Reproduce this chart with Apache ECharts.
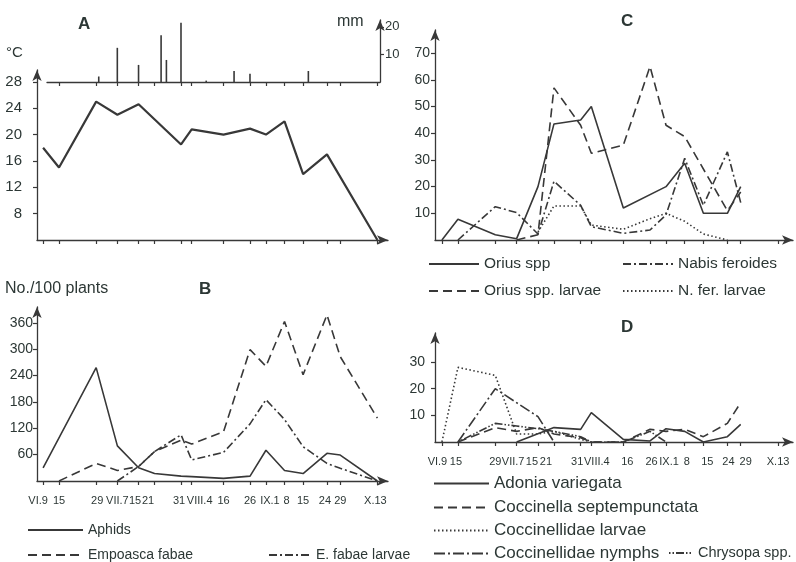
<!DOCTYPE html>
<html><head><meta charset="utf-8">
<script src="https://cdn.jsdelivr.net/npm/echarts@6/dist/echarts.min.js"></script>
<style>html,body{margin:0;padding:0;background:#fff}#c{width:796px;height:562px}</style>
</head><body><div id="c"></div><script>
// ---------------- DATA ----------------
// sampling dates, as days after 9 June
const tickDays = [0, 6, 20, 28, 36, 42, 52, 56, 68, 78, 84, 91, 98, 107, 112, 126];
const tickLabels = ['VI.9','15','29','VII.7','15','21','31','VIII.4','16','26','IX.1','8','15','24','29','X.13'];

// A: temperature (°C) and rainfall (mm)
const temperatureC = [18, 15, 25, 23, 24.6, null, 18.5, 20.8, 20, 20.9, 20, 22, 14, 17, null, 4];
const rainDays = [21, 28, 36, 44.5, 46.5, 52, 61.5, 72, 78, 100];
const rainMm   = [2, 12.4, 6.2, 17, 8, 21.5, 0.5, 4, 3, 4];
const tempTicks = [8, 12, 16, 20, 24, 28];
const rainTicks = [10, 20];

// B: No./100 plants
const aphids      = [30, null, 258, 80, 30, 17, 11, 10, 6, 11, 70, 24, 17, 63, 59, 0];
const empoasca    = [null, 0, 40, 24, 33, 67, 93, 84, 112, 299, 261, 363, 242, 378, 283, 143];
const fabaeLarvae = [null, null, null, 0, 33, 67, 105, 48, 65, 130, 185, 140, 78, 40, 29, 0];
const bTicks = [60, 120, 180, 240, 300, 360];

// C
const orius       = [0, 7.75, 2, 0.5, 20, 43.5, 45, 50, 12, null, 20, 28.75, 10, 10, 20, null];
const oriusLarvae = [null, null, null, 0, 2, 57, 43, 32.5, 35.6, 65, 43, 38.75, null, 11, 18, null];
const nabis       = [null, 0, 12.5, 10.25, 2.25, 22, 13, 5, 2.5, 3.75, 9.4, 30.6, 13, 33, 14, null];
const nferLarvae  = [null, null, null, null, 3, 12.75, 12.75, 5.6, 4, 8, 10, 7, 2.25, 0, null, null];
const cTicks = [10, 20, 30, 40, 50, 60, 70];

// D
const adonia      = [null, null, null, 0, null, 5.4, 4.75, 11, 1, 0.4, 5, 4, 0, 2, 6.6, null];
const coccinella  = [null, 0, 5.4, 4, 5.4, 3, 1.6, 0, 0, 4.75, 4, 4.75, 2, 7, 14.75, null];
const coccLarvae  = [0, 28, 25, 3, 3, 4, 1, 0, null, null, null, null, null, null, null, null];
const coccNymphs  = [null, 0, 20, null, 9.5, 0, null, null, null, null, null, null, null, null, null, null];
const chrysopa    = [null, 0, 7, 6, 5, 4, 2, 0, 0, 4, 0, null, null, null, null, null];
const dTicks = [10, 20, 30];

// ---------------- STYLE ----------------
const FONT = '"Liberation Sans", Arial, sans-serif';
const INK = '#383838';
const TXT = '#2c3735';
// small horizontal label offsets (px) used in the original lettering to avoid crowding
const nudgeB = [-5,0,1,0,-3.5,-6.5,-2,8,0,0,4,2,0,-2,0,-2];
const nudgeD = [-4.5,-2,0,-3.5,-6,-8,-3.5,5.5,4,1.5,3,2,4,1,5,0];
const XFS = 11;

function pts(days, arr){ const out=[]; arr.forEach((v,i)=>{ if(v!=null) out.push([days[i], v]); }); return out; }

function xLabel(margin, nudge, key){
  const rich = {};
  nudge.forEach((s,i)=>{
    rich[key+i] = {fontSize:XFS, color:TXT, fontFamily:FONT,
      padding: s>0 ? [0,0,0,2*s] : [0,-2*s,0,0]};
  });
  return {show:true, customValues:tickDays, margin:margin, fontSize:XFS, color:TXT, fontFamily:FONT,
    formatter:function(v){ const i = tickDays.indexOf(v); return i<0 ? '' : '{'+key+i+'|'+tickLabels[i]+'}'; },
    rich:rich};
}
function xAx(gi, min, max, extra){
  return Object.assign({type:'value', gridIndex:gi, min:min, max:max, splitLine:{show:false},
    axisLine:{show:true, onZero:false, lineStyle:{color:INK, width:1.3}, symbol:['none','arrow'], symbolSize:[7,11]},
    axisTick:{show:true, customValues:tickDays, length:4, lineStyle:{color:INK, width:1.2}},
    axisLabel:{show:false}}, extra||{});
}
function yAx(gi, min, max, ticks, margin, fs, pos){
  return {type:'value', gridIndex:gi, min:min, max:max, position:pos||'left', splitLine:{show:false},
    axisLine:{show:true, onZero:false, lineStyle:{color:INK, width:1.3}, symbol:['none','arrow'], symbolSize:[7,11]},
    axisTick:{show:true, customValues:ticks, length:4, lineStyle:{color:INK, width:1.2}},
    axisLabel:{show:true, customValues:ticks, margin:margin, fontSize:fs, color:TXT, fontFamily:FONT}};
}
function line(name, xi, arr, dash, w){
  return {name:name, type:'line', xAxisIndex:xi, yAxisIndex:xi, data:pts(tickDays, arr), symbol:'none',
    silent:true, lineStyle:{color:INK, width:w||1.6, type:dash||'solid'}, itemStyle:{color:INK}};
}
const DASH = [9,5], DASHDOT = [8,3,2,3], DOT = [1.5,2.5], LDASHDOT = [11,3,2,3], DOTDASH = [1.5,2,1.5,2,8,2];

function legend(left, top, item, fs, iw){
  return {left:left, top:top, orient:'horizontal', data:[item], selectedMode:false, itemWidth:iw, itemHeight:14,
    padding:0, itemStyle:{opacity:0},
    textStyle:{fontSize:fs, color:TXT, fontFamily:FONT, lineHeight:16}};
}
function ttl(text, left, top, fs, bold){
  return {text:text, left:left, top:top, padding:0,
    textStyle:{fontSize:fs, fontWeight:bold?'bold':'normal', color:TXT, fontFamily:FONT}};
}

const option = {
  animation:false,
  backgroundColor:'#ffffff',
  title:[
    ttl('A', 78, 16, 17, true), ttl('°C', 6, 45, 15), ttl('mm', 337, 14, 16),
    ttl('No./100 plants', 5, 281, 16), ttl('B', 199, 281, 17, true),
    ttl('C', 621, 13, 17, true), ttl('D', 621, 319, 17, true)
  ],
  grid:[
    {left:47,  right:416, top:20,  bottom:480},
    {left:37,  right:408, top:70,  bottom:322},
    {left:37,  right:408, top:307, bottom:81},
    {left:435, right:3,   top:30,  bottom:322},
    {left:435, right:3,   top:333, bottom:120}
  ],
  xAxis:[
    xAx(0, 1.5, 127, {axisLine:{show:true, onZero:false, lineStyle:{color:INK, width:1.3}, symbol:['none','none']}}),
    xAx(1, -2.3, 130),
    xAx(2, -2.3, 130, {axisLabel:xLabel(14, nudgeB, 'b')}),
    xAx(3, -2.6, 131.6),
    xAx(4, -2.6, 131.6, {axisLabel:xLabel(14, nudgeD, 'd')})
  ],
  yAxis:[
    yAx(0, 0, 22.5, rainTicks, 5, 13, 'right'),
    yAx(1, 4, 29.8, tempTicks, 15, 15),
    yAx(2, 0, 396, bTicks, 4, 14),
    yAx(3, 0, 78.7, cTicks, 5, 14),
    yAx(4, 0, 40.9, dTicks, 10, 14)
  ],
  legend:[
    legend(27, 522, 'Aphids', 14, 55),
    legend(27, 547, 'Empoasca fabae', 14, 55),
    legend(268, 547, 'E. fabae larvae', 14, 42),
    legend(428, 256, 'Orius spp', 15.5, 50),
    legend(428, 283, 'Orius spp. larvae', 15.5, 50),
    legend(622, 256, 'Nabis feroides', 15.5, 50),
    legend(622, 283, 'N. fer. larvae', 15.5, 50),
    legend(433, 475, 'Adonia variegata', 17, 55),
    legend(433, 499, 'Coccinella septempunctata', 17, 55),
    legend(433, 522, 'Coccinellidae larvae', 17, 55),
    legend(433, 545, 'Coccinellidae nymphs', 17, 55),
    legend(668, 545, 'Chrysopa spp.', 14.5, 24)
  ],
  series:[
    {name:'rain', type:'bar', xAxisIndex:0, yAxisIndex:0, data:pts(rainDays, rainMm), barWidth:1.6,
      silent:true, itemStyle:{color:INK}},
    line('temperature', 1, temperatureC, 'solid', 2.2),
    line('Aphids', 2, aphids, 'solid'),
    line('Empoasca fabae', 2, empoasca, DASH),
    line('E. fabae larvae', 2, fabaeLarvae, DASHDOT),
    line('Orius spp', 3, orius, 'solid'),
    line('Orius spp. larvae', 3, oriusLarvae, DASH),
    line('Nabis feroides', 3, nabis, DASHDOT),
    line('N. fer. larvae', 3, nferLarvae, DOT),
    line('Adonia variegata', 4, adonia, 'solid'),
    line('Coccinella septempunctata', 4, coccinella, DASH),
    line('Coccinellidae larvae', 4, coccLarvae, DOT),
    line('Coccinellidae nymphs', 4, coccNymphs, LDASHDOT),
    line('Chrysopa spp.', 4, chrysopa, DOTDASH)
  ]
};
const chart = echarts.init(document.getElementById('c'), null, {renderer:'canvas'});
chart.setOption(option);
</script></body></html>
